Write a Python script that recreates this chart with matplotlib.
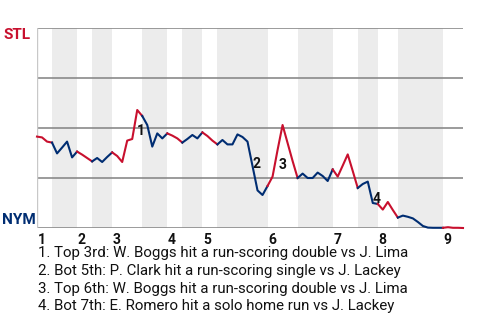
import matplotlib
matplotlib.use("Agg")
import matplotlib.pyplot as plt
import numpy as np

plt.rcParams["font.family"] = ["Roboto", "DejaVu Sans"]

# STL win probability (%) after each plate appearance
win_prob = [45.7, 45.3, 43.2, 42.7, 37.3, 40.2, 43.2, 35.3, 38.2, 36.7,
            35.0, 33.3, 35.0, 33.0, 35.5, 37.8, 36.0, 33.0, 43.7, 44.5,
            59.0, 56.0, 51.5, 40.7, 47.3, 44.8, 47.3, 46.2, 44.8, 42.7,
            44.5, 46.5, 44.8, 47.8, 46.0, 43.7, 41.8, 44.0, 41.8, 41.8,
            46.8, 45.5, 43.2, 31.0, 18.8, 16.5, 21.0, 25.7, 39.0, 51.5,
            42.5, 33.5, 25.0, 27.2, 25.0, 25.0, 27.7, 26.0, 23.5, 29.3,
            25.7, 31.2, 36.8, 28.5, 20.0, 22.0, 23.2, 12.5, 12.0, 9.2,
            13.0, 9.0, 5.2, 6.2, 5.6, 4.8, 3.0, 1.0, 0.2, 0.1,
            0.1, 0.1, 0.4, 0.1, 0.1, 0.0]

# plate appearances per half inning (top 1st, bot 1st, ...)
half_pa = [3, 5, 3, 4, 6, 5, 3, 4, 3, 10, 6, 7, 5, 4, 4, 9, 4]

events = [
    "1. Top 3rd: W. Boggs hit a run-scoring double vs J. Lima",
    "2. Bot 5th: P. Clark hit a run-scoring single vs J. Lackey",
    "3. Top 6th: W. Boggs hit a run-scoring double vs J. Lima",
    "4. Bot 7th: E. Romero hit a solo home run vs J. Lackey",
]
event_x = [20.75, 43.7, 48.9, 67.7]
event_y = [48.5, 32.0, 31.5, 14.5]

red = "#c8102e"
navy = "#002d72"

fig = plt.figure(figsize=(4.8, 3.2), dpi=100)
ax = fig.add_axes([37 / 480, 92 / 320, 426 / 480, 200 / 320])

bounds = np.concatenate([[0], np.cumsum(half_pa)])
n = bounds[-1]

# shade bottom halves
for h in range(len(half_pa)):
    if h % 2 == 1:
        ax.axvspan(bounds[h], bounds[h + 1], color="#ececec", lw=0, zorder=0)

for yv in [0, 25, 50, 75, 100]:
    ax.axhline(yv, color="#8a8a8a", lw=1.2, zorder=1)
ax.axvline(0, color="#c8c8c8", lw=1, zorder=1)

x = np.arange(len(win_prob))
for h in range(len(half_pa)):
    s, e = bounds[h], bounds[h + 1]
    ax.plot(x[s:e + 1], win_prob[s:e + 1], color=red if h % 2 == 0 else navy,
            lw=1.5, zorder=3, clip_on=False, solid_joinstyle="round")

for k, (ex, ey) in enumerate(zip(event_x, event_y)):
    ax.text(ex, ey, str(k + 1), ha="center", va="center", fontsize=10,
            fontweight="bold", color="#111111", zorder=4)

ax.set_xlim(0, n)
ax.set_ylim(0, 100)
for sp in ax.spines.values():
    sp.set_visible(False)
ax.set_xticks([])
ax.set_yticks([])

# inning numbers at start of each top half
for inn in range(9):
    ax.text(bounds[2 * inn] + 0.15, -2.5, str(inn + 1), ha="left", va="top",
            fontsize=10, fontweight="bold", color="#111111")

fig.text(3 / 480, 1 - 35 / 320, "STL", ha="left", va="center",
         fontsize=11, fontweight="bold", color=red)
fig.text(2 / 480, 1 - 220 / 320, "NYM", ha="left", va="center",
         fontsize=11, fontweight="bold", color=navy)

for j, t in enumerate(events):
    fig.text(38 / 480, 1 - (253.5 + 17.6 * j) / 320, t, ha="left",
             va="center", fontsize=10.8, color="#111111")

fig.savefig("out.png", dpi=100)
